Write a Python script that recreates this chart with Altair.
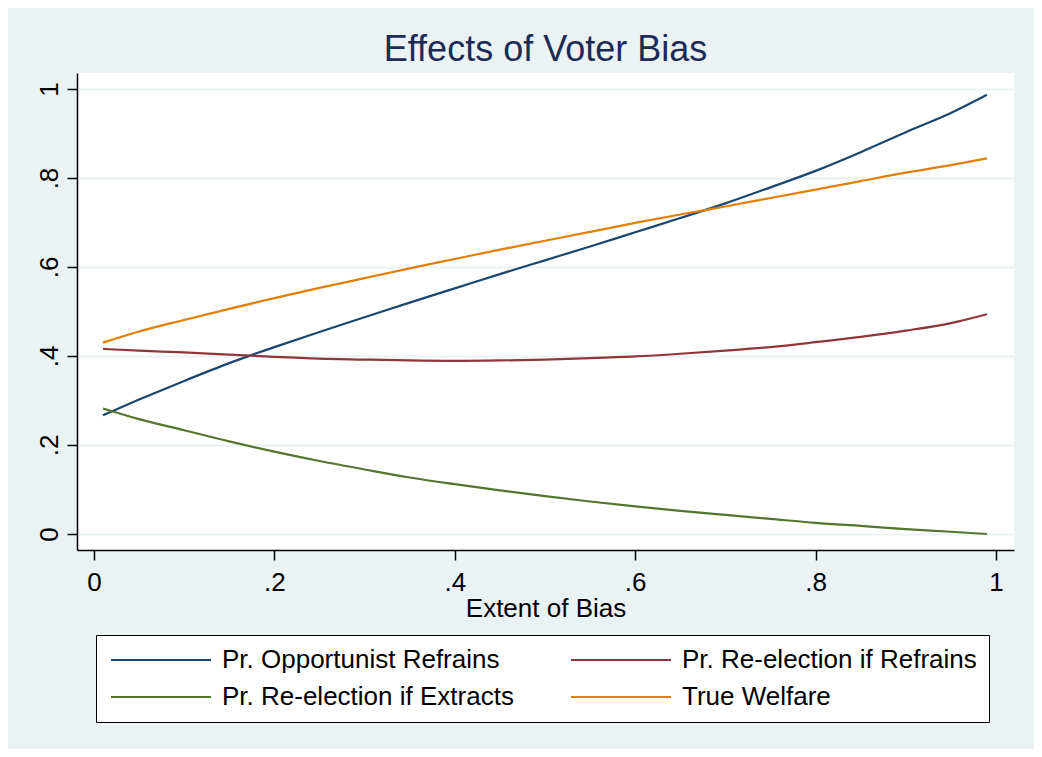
import altair as alt
import pandas as pd

# ---- data ----
x_vals = [0.01, 0.05, 0.10, 0.15, 0.20, 0.25, 0.30, 0.35, 0.40, 0.45, 0.50,
          0.55, 0.60, 0.65, 0.70, 0.75, 0.80, 0.85, 0.90, 0.95, 0.99]

opportunist_refrains = [0.267, 0.302, 0.344, 0.384, 0.420, 0.454, 0.487, 0.520, 0.552, 0.584, 0.615,
                        0.646, 0.678, 0.710, 0.743, 0.779, 0.816, 0.858, 0.903, 0.946, 0.987]
reelect_refrains = [0.416, 0.412, 0.408, 0.403, 0.398, 0.394, 0.392, 0.390, 0.389, 0.390, 0.392,
                    0.395, 0.399, 0.405, 0.412, 0.420, 0.431, 0.443, 0.457, 0.474, 0.494]
reelect_extracts = [0.282, 0.258, 0.233, 0.208, 0.185, 0.164, 0.145, 0.127, 0.112, 0.098, 0.085,
                    0.073, 0.062, 0.052, 0.043, 0.034, 0.025, 0.018, 0.011, 0.005, 0.000]
true_welfare = [0.430, 0.455, 0.481, 0.506, 0.530, 0.553, 0.575, 0.597, 0.618, 0.639, 0.659,
                0.679, 0.699, 0.718, 0.736, 0.755, 0.774, 0.793, 0.812, 0.829, 0.844]

series_names = ["Pr. Opportunist Refrains", "Pr. Re-election if Refrains",
                "Pr. Re-election if Extracts", "True Welfare"]
series_colors = ["#1A476F", "#90353B", "#55752F", "#E37E00"]

x_ticks = [0, 0.2, 0.4, 0.6, 0.8, 1]
y_ticks = [0, 0.2, 0.4, 0.6, 0.8, 1]

rows = []
for name, vals in zip(series_names, [opportunist_refrains, reelect_refrains,
                                     reelect_extracts, true_welfare]):
    for xv, yv in zip(x_vals, vals):
        rows.append({"bias": xv, "value": yv, "series": name})
df = pd.DataFrame(rows)

FONT = "Liberation Sans"
BG = "#EAF2F3"
label_expr = "replace(format(datum.value, '.1~f'), '0.', '.')"

chart = alt.Chart(df).mark_line(strokeWidth=2.2, interpolate="monotone").encode(
    x=alt.X("bias:Q",
            scale=alt.Scale(domain=[-0.0188, 1.02], nice=False, zero=False),
            axis=alt.Axis(values=x_ticks, title="Extent of Bias", grid=False,
                          labelExpr=label_expr, labelBaseline="alphabetic",
                          labelPadding=30, labelFlush=False, labelOverlap=False,
                          titleY=66, titleBaseline="alphabetic")),
    y=alt.Y("value:Q",
            scale=alt.Scale(domain=[-0.036, 1.036], nice=False, zero=False),
            axis=alt.Axis(values=y_ticks, title=None, grid=True, gridColor=BG, gridWidth=2,
                          labelExpr=label_expr, labelAngle=270, labelAlign="center",
                          labelBaseline="alphabetic", labelPadding=10,
                          labelFlush=False, labelOverlap=False)),
    color=alt.Color("series:N", sort=series_names,
                    scale=alt.Scale(domain=series_names, range=series_colors),
                    legend=alt.Legend(title=None, orient="none", legendX=19, legendY=562,
                                      direction="horizontal", columns=2,
                                      symbolType="M-1,0H9", symbolSize=400,
                                      symbolStrokeWidth=2.2, labelFontSize=26, labelFont=FONT,
                                      labelColor="black", fillColor="white", strokeColor="black",
                                      padding=12, columnPadding=52, rowPadding=11,
                                      labelOffset=88, labelLimit=0)),
).properties(
    width=937,
    height=477,
    autosize=alt.AutoSizeParams(type="none"),
    padding={"left": 69, "top": 65, "right": 20, "bottom": 199},
    background=BG,
    title=alt.TitleParams("Effects of Voter Bias", font=FONT, fontSize=36, fontWeight="normal",
                          color="#1C2B55", anchor="middle", offset=13, dy=37,
                          baseline="alphabetic"),
).configure_view(
    fill="white", strokeWidth=0
).configure_axis(
    domainColor="black", domainWidth=1.5, tickColor="black", tickWidth=1.5, tickSize=10,
    labelFont=FONT, labelFontSize=26, labelColor="black",
    titleFont=FONT, titleFontSize=26, titleColor="black", titleFontWeight="normal"
)

chart.save("out.html", embed_options={"renderer": "svg", "actions": False})
